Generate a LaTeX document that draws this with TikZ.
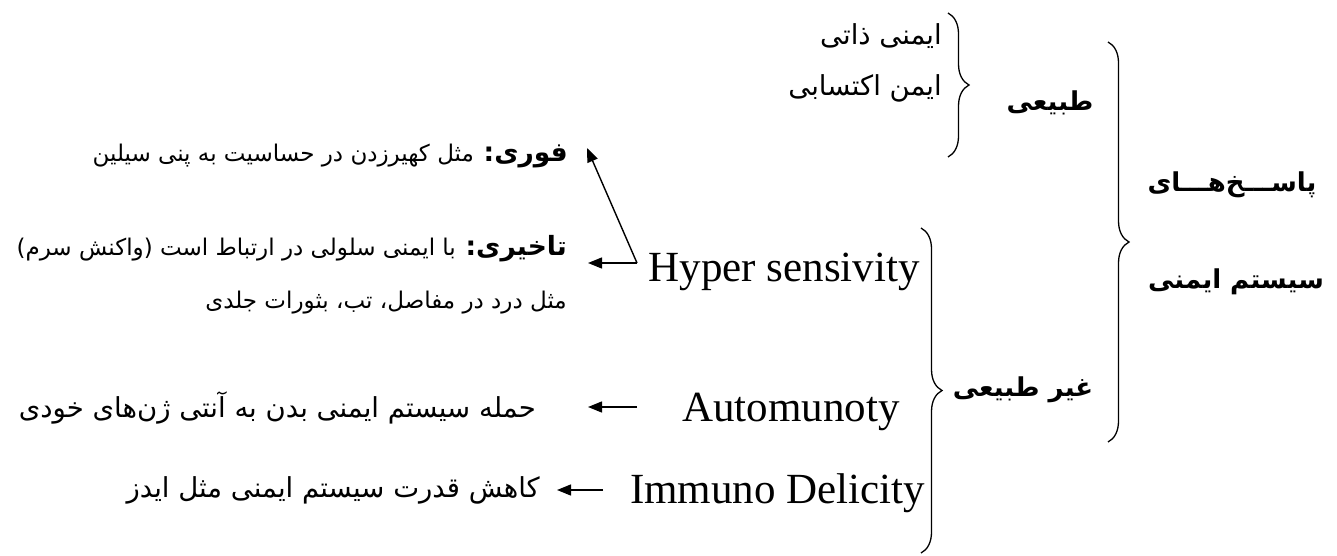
\documentclass[tikz,border=0pt]{standalone}
\usepackage{fontspec}
\setmainfont{Liberation Serif}
\newfontfamily\fa[Script=Arabic]{DejaVu Sans}
\TeXXeTstate=1
\usetikzlibrary{arrows.meta,decorations.pathreplacing}
\newcommand\fabig{\bfseries\fontsize{26.5}{30}\selectfont}
\begin{document}
\begin{tikzpicture}[x=1pt,y=-1pt,
  en/.style={font=\fontsize{43}{50}\selectfont, inner sep=0pt},
  fa/.style={font=\fa\fontsize{23}{28}\selectfont, inner sep=0pt},
  fal/.style={font=\fa\fontsize{27.5}{32}\selectfont, inner sep=0pt},
  fab/.style={font=\fa\bfseries\fontsize{26}{30}\selectfont, inner sep=0pt},
  arr/.style={-{Triangle[length=14pt,width=11pt]}, line width=1.4pt},
  brc/.style={decorate, decoration={brace, amplitude=21pt}, line width=1.3pt}]
\useasboundingbox (0,0) rectangle (1337,556);

% right column headings
\node[fab, anchor=center] (pasokh) at (1232,185) {\beginR پاســـخ‌هـــای\endR};
\node[fab, anchor=center] (sistem) at (1236,282) {\beginR سیستم ایمنی\endR};
\node[fab, anchor=center] (tabiei) at (1050,103) {\beginR طبیعی\endR};
\node[fab, anchor=center] (gheyr) at (1023,390) {\beginR غیر طبیعی\endR};

% natural items
\node[fal, anchor=east] (zati) at (942,36) {\beginR ایمنی ذاتی\endR};
\node[fal, anchor=east] (ektesabi) at (942,88) {\beginR ایمن اکتسابی\endR};

% english items
\node[en, anchor=base east] (hyper) at (920,281) {Hyper sensivity};
\node[en, anchor=base west] (auto) at (682,421) {Automunoty};
\node[en, anchor=base west] (immuno) at (630,503) {Immuno Delicity};

% explanations
\node[fa, anchor=east] (fori) at (568,156) {\beginR{\fabig فوری:} مثل کهیرزدن در حساسیت به پنی سیلین\endR};
\node[fa, anchor=east] (takhiri) at (567,249) {\beginR{\fabig تاخیری:} با ایمنی سلولی در ارتباط است (واکنش سرم)\endR};
\node[fa, anchor=east] (dard) at (567,303) {\beginR مثل درد در مفاصل، تب، بثورات جلدی\endR};
\node[fal, anchor=east] (hamle) at (536,408) {\beginR حمله سیستم ایمنی بدن به آنتی ژن‌های خودی\endR};
\node[fal, anchor=east] (kahesh) at (540,490) {\beginR کاهش قدرت سیستم ایمنی مثل ایدز\endR};

% braces
\coordinate (b1t) at (948,13);  \coordinate (b1b) at (948,157);
\coordinate (b2t) at (1108,42); \coordinate (b2b) at (1108,442);
\coordinate (b3t) at (921,228); \coordinate (b3b) at (921,553);
\draw[brc] (b1t) -- (b1b);
\draw[brc] (b2t) -- (b2b);
\draw[brc] (b3t) -- (b3b);

% arrows
\coordinate (hc) at (637,263);
\coordinate (foriT) at (587,148);
\coordinate (takT) at (588,263);
\coordinate (autoS) at (637,407);
\coordinate (autoT) at (588,407);
\coordinate (immS) at (603,490);
\coordinate (immT) at (557,490);
\draw[arr] (hc) -- (foriT);
\draw[arr] (hc) -- (takT);
\draw[arr] (autoS) -- (autoT);
\draw[arr] (immS) -- (immT);
\end{tikzpicture}
\end{document}
